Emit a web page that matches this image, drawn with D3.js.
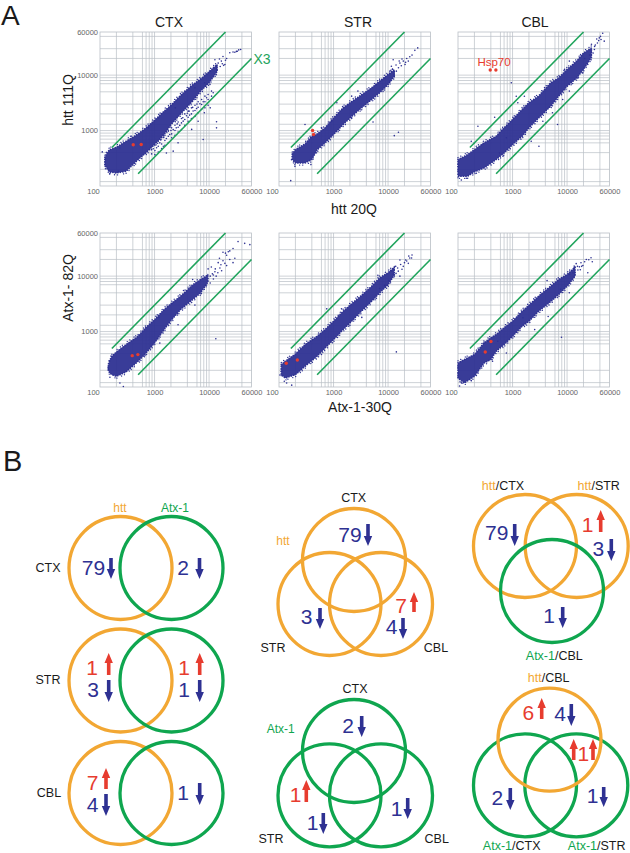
<!DOCTYPE html>
<html><head><meta charset="utf-8">
<script src="https://cdn.jsdelivr.net/npm/d3@7"></script>
<style>html,body{margin:0;padding:0;background:#fff}svg{display:block}text{font-family:"Liberation Sans",Arial,sans-serif}</style>
</head><body><svg id="c" width="630" height="853"></svg>
<script>
// ---------- Scatter data (x value, upper / lower edge of the dense cloud, single visible dots)
const tickLabels=[100,1000,10000,60000];
const gridX=[200,400,600,700,800,900,1000,2000,4000,6000,7000,8000,9000,10000,20000,40000];
const gridY=[120,200,400,600,700,800,900,1000,1300,2000,3000,5000,7000,8000,9000,10000,20000,30000,50000];
const foldChange=3;
const upperLineX=[165,20000], lowerLineX=[500,60000];

const xHttCtx=[123,135,150,200,300,500,700,1000,1500,2000,3000,5000,7000,10000,14000];
const hiHttCtx=[330,400,453,500,640,870,1120,1530,2240,2860,4300,6700,8500,11500,15500];
const loHttCtx=[240,205,179,172,184,300,400,560,850,1280,2000,3400,5150,7300,11500];
const dotsHttCtxLow=[[885,454],[885,379],[1016,543],[1016,435],[1016,368],[1170,640],[1170,521],[1170,411],[1350,740],[1350,574],[1350,473],[1550,821],[1550,660],[1550,543],[1790,970],[1790,789],[1790,607],[2060,1120],[2060,870],[2060,740],[2370,1250],[2370,1000],[2370,821],[2710,1430],[2710,1150],[2710,945],[3120,1650],[3120,1375],[3120,1040],[3590,2000],[3590,1580],[3590,1250],[4130,2240],[4130,1740],[4130,1474],[4750,2570],[4750,2000],[4750,1650],[5520,2860],[5520,2300],[5520,1790],[6300,3300],[6300,2640],[6300,2090],[7300,3630],[7300,2960],[7300,2400],[8400,4180],[8400,3300],[8400,2570],[9600,4480],[9600,3630],[9600,2860],[11100,5150],[11100,4180],[950,470],[1090,490],[1250,600],[1450,520],[1650,720],[1900,850],[2200,1040],[2500,1120],[2900,1240],[3350,1480],[3850,1850],[4400,1900],[5100,2250],[5900,2500],[6800,3050],[7800,3300],[9000,3900],[1280,680],[1480,760],[2000,1000],[2600,1320],[3300,1700],[4000,2050],[5000,2620],[6000,3000]];
const dotsHttCtx=[[24000,25300],[27500,26200],[31700,26800],[35000,28500],[38000,29000],[29700,25800],[33000,27000],[18000,21700],[14700,16500],[12800,19000],[10400,11800],[12000,13600],[16800,17900],[19500,15600],[9000,10300],[8300,7300],[10400,6800],[5500,5900],[3600,5150],[2400,2570],[1200,1690],[780,1120],[370,790],[230,485],[110,412],[126,205],[123,243],[152,167],[217,184],[13700,1440],[13700,1120],[7800,690],[2200,425],[1650,395],[2700,600],[10500,2570],[6300,1474],[4800,1050],[8200,2100],[11900,4800],[4300,2240],[15500,19500],[17500,16000],[21000,20000],[14000,12500],[16000,14300],[20000,18500],[18500,15000]];
const redHttCtx=[[407,555],[570,560]];

const xHttStr=[175,200,300,400,500,700,1000,1500,2000,3000,5000,7000,10000,13000];
const hiHttStr=[378,453,575,790,870,1120,1690,2570,3170,4180,5900,7760,10300,12500];
const loHttStr=[300,260,260,300,450,600,850,1285,1690,2400,3630,4800,6790,9500];
const dotsHttStr=[[164,125],[170,299],[196,226],[300,1285],[385,243],[13000,810],[15500,935],[5300,1430],[35000,31000],[31000,28000],[27500,23000],[25000,21500],[22000,20000],[19000,17900],[16500,16500],[23500,17900],[20500,15600],[12400,19000],[11500,14500],[14200,11800],[15500,13600],[10800,11800],[10800,7760],[8700,8900],[2150,4180],[2800,5150],[6100,6790],[1150,3170],[2150,1700],[600,1120],[920,1474],[17500,14800],[14000,15200],[18000,19500],[21000,17000],[13000,10000],[12000,12800],[16000,18000]];
const redHttStr=[[413,1000],[430,850]];

const xHttCbl=[100,150,200,300,500,700,1000,1500,2000,3000,5000,7000,10000,15000,20000,28000];
const hiHttCbl=[299,368,453,600,790,1120,1580,2400,3170,4180,7270,8900,12700,17900,25000,31000];
const loHttCbl=[150,150,180,212,300,395,560,790,1120,1690,2760,4180,6300,8900,12700,21000];
const dotsHttCbl=[[950,7300],[3050,520],[470,1740],[232,1200],[1170,4150],[200,600],[6700,1285],[668,345],[580,395],[39000,47000],[45000,57000],[36000,38000],[31700,29000],[42000,44000],[48000,41000],[25900,23000],[24000,15600],[21000,20000],[11000,17900],[9000,12700],[15400,8900],[19500,11000],[11000,5150],[8300,3630],[5400,2100],[4100,1380],[3600,1474],[1650,4150],[1250,3170],[175,640],[217,170],[142,138],[115,128],[770,740],[2200,640],[33000,35000],[38000,42000],[41000,50000],[35000,45000],[30000,25000],[32000,33000],[28000,36000]];
const redHttCbl=[[390,12400],[495,12400]];

const xAtxCtx=[142,150,165,200,300,500,700,1000,1500,2000,3000,5000,7000,9500];
const hiAtxCtx=[240,300,358,428,582,825,1195,1640,2500,3170,4340,6950,8700,10500];
const loAtxCtx=[205,180,167,156,187,291,410,625,1085,1580,2500,3770,5000,7800];
const dotsAtxCtx=[[13300,740],[232,118],[268,102],[152,150],[142,215],[34000,42000],[27500,31500],[22500,27500],[18000,27000],[14700,17500],[15800,14000],[12800,12000],[11000,14600],[18000,19000],[29700,21000],[45000,39000],[56000,37000],[27500,17500],[24000,28500],[21000,23800],[21000,15500],[9600,13500],[12000,8900],[13500,10000],[9000,6900],[5500,3000],[5000,8700],[3400,5500],[2100,3200],[1200,1800],[500,870],[668,373],[1250,620],[2700,1330],[10500,10000],[11500,11000],[13000,13500],[14500,11500],[16500,16000],[10500,7500],[12000,10500],[17000,12500],[19500,17000],[24000,20000],[15500,21000],[20000,26000]];
const redAtxCtx=[[390,368],[495,384]];

const xAtxStr=[110,130,200,300,500,700,1000,1500,2000,3000,5000,7000,10000,13000];
const hiAtxStr=[253,291,394,582,825,1085,1530,2320,2990,4180,6570,9300,11500,14500];
const loAtxStr=[167,145,167,236,358,505,715,1085,1430,2170,3530,5000,7000,10500];
const dotsAtxStr=[[14200,430],[750,2570],[27500,24000],[25000,21300],[22000,18800],[17000,16200],[18000,13300],[15400,12300],[11800,12300],[13800,15000],[27000,21300],[23500,17000],[16500,19500],[12400,10800],[16500,10000],[10200,8300],[8700,6800],[6500,10400],[7000,6000],[112,190],[104,165],[125,127],[171,108],[138,118],[1400,2570],[600,385],[2000,1300],[3300,1800],[1220,1970],[19000,15000],[21000,19500],[24000,23000],[15000,14000],[14000,11200],[20000,17500]];
const redAtxStr=[[136,268],[217,307]];

const xAtxCbl=[100,130,200,300,400,500,700,1000,1500,2000,3000,5000,7000,10000,14000];
const hiAtxCbl=[272,312,384,625,770,885,1170,1530,2320,2990,4340,6570,8700,10700,14500];
const loAtxCbl=[145,118,156,272,312,442,582,825,1250,1530,2320,3470,4650,6570,10000];
const dotsAtxCbl=[[7900,790],[18000,17400],[21000,18200],[29000,18200],[24000,11500],[15800,12900],[12800,11500],[27500,21500],[14700,16800],[16800,14700],[19500,15600],[11000,10700],[4300,8300],[7600,5800],[11000,5000],[107,104],[115,119],[175,130],[535,670],[430,291],[770,410],[355,670],[300,625],[1550,1770],[2550,1085],[4500,1870],[17500,13000],[15500,15000],[13500,14300],[22500,20000],[18500,15000],[25000,19800]];
const redAtxCbl=[[402,660],[316,428]];

const columnTitles=["CTX","STR","CBL"];
// ---------- Venn counts: CTX, STR, CBL
const httDown=[79,3,4], httUp=[0,1,7];
const atxDown=[2,1,1],  atxUp=[0,1,0];
const httCblOnlyUp=6, sharedCblUp=1;

// ---------- Palette
const BLUE="#2e3192",RED="#e73c2f",GREEN="#1fa45c",VGREEN="#0fa64f",ORANGE="#f2a733",GRID="#b9bfc5",TICK="#666";
const svg=d3.select("#c");

// ---------- Scatter panels
const panelLefts=[100,279,458], panelTops=[32,233];
const panelW=151.5, panelH=154;
const panels=[
 {c:0,r:0,x:xHttCtx,hi:hiHttCtx,lo:loHttCtx,dots:dotsHttCtx.concat(dotsHttCtxLow),red:redHttCtx},
 {c:1,r:0,x:xHttStr,hi:hiHttStr,lo:loHttStr,dots:dotsHttStr,red:redHttStr},
 {c:2,r:0,x:xHttCbl,hi:hiHttCbl,lo:loHttCbl,dots:dotsHttCbl,red:redHttCbl},
 {c:0,r:1,x:xAtxCtx,hi:hiAtxCtx,lo:loAtxCtx,dots:dotsAtxCtx,red:redAtxCtx},
 {c:1,r:1,x:xAtxStr,hi:hiAtxStr,lo:loAtxStr,dots:dotsAtxStr,red:redAtxStr},
 {c:2,r:1,x:xAtxCbl,hi:hiAtxCbl,lo:loAtxCbl,dots:dotsAtxCbl,red:redAtxCbl}
];
panels.forEach((p,i)=>{
  const g=svg.append("g").attr("transform",`translate(${panelLefts[p.c]},${panelTops[p.r]})`);
  const X=d3.scaleLog().domain([100,60000]).range([0,panelW]);
  const Y=d3.scaleLog().domain([100,60000]).range([panelH,0]);
  g.append("g").selectAll("line").data(gridX).join("line").attr("x1",X).attr("x2",X).attr("y1",0).attr("y2",panelH).attr("stroke",GRID).attr("stroke-width",.7);
  g.append("g").selectAll("line").data(gridY).join("line").attr("y1",Y).attr("y2",Y).attr("x1",0).attr("x2",panelW).attr("stroke",GRID).attr("stroke-width",.7);
  g.append("rect").attr("width",panelW).attr("height",panelH).attr("fill","none").attr("stroke",GRID).attr("stroke-width",.8);
  // axes
  const ax=g.append("g").attr("transform",`translate(0,${panelH})`).call(d3.axisBottom(X).tickValues(tickLabels).tickSize(0).tickPadding(3).tickFormat(d3.format("d")));
  ax.select(".domain").remove();
  ax.selectAll("text").attr("font-size",7.5).attr("fill",TICK).attr("font-family","Liberation Sans")
    .attr("dx",d=>d===100?-7:0);
  if(p.c===0){
    const ay=g.append("g").call(d3.axisLeft(Y).tickValues(tickLabels.slice(1)).tickSize(0).tickPadding(2).tickFormat(d3.format("d")));
    ay.select(".domain").remove();
    ay.selectAll("text").attr("font-size",7.5).attr("fill",TICK).attr("font-family","Liberation Sans");
  }
  // dense cloud envelope, with grainy dotted edges
  const area=d3.area().x(d=>X(d[0])).y0(d=>Y(d[2])).y1(d=>Y(d[1]));
  const rows=p.x.map((v,k)=>[v,p.hi[k],p.lo[k]]);
  g.append("path").attr("d",area(rows.map(d=>[d[0],d[1]*1.09,d[2]/1.09]))).attr("fill","none")
   .attr("stroke",BLUE).attr("stroke-width",1.3).attr("stroke-linecap","round").attr("stroke-dasharray","0.1 3 0.1 5 0.1 2 0.1 7 0.1 4 0.1 2.5 0.1 6");
  g.append("path").attr("d",area(rows)).attr("fill",BLUE).attr("fill-opacity",.95)
   .attr("stroke",BLUE).attr("stroke-width",1.7).attr("stroke-linecap","round").attr("stroke-dasharray","0.1 2.4");
  g.append("g").selectAll("circle").data(p.dots).join("circle").attr("cx",d=>X(d[0])).attr("cy",d=>Y(d[1])).attr("r",.8).attr("fill",BLUE);
  // fold-change guide lines
  const ln=d3.line().x(d=>X(d[0])).y(d=>Y(d[1]));
  g.append("path").attr("d",ln(upperLineX.map(v=>[v,v*foldChange]))).attr("stroke",GREEN).attr("stroke-width",1.6).attr("fill","none");
  g.append("path").attr("d",ln(lowerLineX.map(v=>[v,v/foldChange]))).attr("stroke",GREEN).attr("stroke-width",1.6).attr("fill","none");
  g.append("g").selectAll("circle").data(p.red).join("circle").attr("cx",d=>X(d[0])).attr("cy",d=>Y(d[1])).attr("r",1.7).attr("fill",RED);
});

function t(x,y,s,o={}){
  return svg.append("text").attr("x",x).attr("y",y).attr("text-anchor",o.a||"middle").attr("dominant-baseline","central")
   .attr("font-size",o.f||12.5).attr("fill",o.c||"#1a1a1a").text(s);
}
t(1,15,"A",{a:"start",f:28});
t(3,461,"B",{a:"start",f:29});
t(169,22,columnTitles[0],{f:14});t(358,22,columnTitles[1],{f:14});t(535,22,columnTitles[2],{f:14});
t(262,59,"X3",{f:14,c:GREEN});
t(354,209,"htt 20Q",{f:14});t(360,407,"Atx-1-30Q",{f:14});
svg.append("text").attr("transform","translate(68,100) rotate(-90)").attr("text-anchor","middle").attr("dominant-baseline","central").attr("font-size",14).attr("fill","#1a1a1a").text("htt 111Q");
svg.append("text").attr("transform","translate(68,288) rotate(-90)").attr("text-anchor","middle").attr("dominant-baseline","central").attr("font-size",14).attr("fill","#1a1a1a").text("Atx-1- 82Q");
t(494,62,"Hsp70",{f:11.5,c:RED});

// ---------- Venn diagrams
function ring(cx,cy,col){svg.append("circle").attr("cx",cx).attr("cy",cy).attr("r",51.5).attr("fill","none").attr("stroke",col).attr("stroke-width",3.3);}
const arrowShape=d3.line();
function arrow(x,y0,y1,col){ // y0 tail, y1 tip
  const dir=y1>y0?1:-1,hw=4.2,sw=1.8,hl=10;
  const neck=y1-dir*hl;
  svg.append("path").attr("d",arrowShape([[x-sw,y0],[x+sw,y0],[x+sw,neck],[x+hw,neck],[x,y1],[x-hw,neck],[x-sw,neck]])+"Z").attr("fill",col);
}
function down(cx,cy,n,ax,y0,y1){t(cx,cy,n,{f:21,c:BLUE});arrow(ax,y0,y1,BLUE);}
function up(cx,cy,n,ax,y0,y1){t(cx,cy,n,{f:21,c:RED});arrow(ax,y1,y0,RED);}
function mixed(x,y,parts,f=12.5){ // coloured run of text centred on x
  const el=svg.append("text").attr("x",x).attr("y",y).attr("text-anchor","middle").attr("dominant-baseline","central").attr("font-size",f);
  parts.forEach(([s,c])=>el.append("tspan").attr("fill",c).text(s));
}
const INK="#1a1a1a";
// left column
[568,680.5,793].forEach(y=>{ring(120.5,y,ORANGE);ring(171.5,y,VGREEN);});
t(120,508,"htt",{f:12,c:ORANGE});t(175,508,"Atx-1",{f:12,c:VGREEN});
t(48,568,columnTitles[0],{f:12.5});t(48,680,columnTitles[1],{f:12.5});t(49,793,columnTitles[2],{f:12.5});
down(93.5,567,httDown[0],111,558,579);down(183,567,atxDown[0],199.5,558,579);
up(92,667,httUp[1],108.7,653,675);down(93,689,httDown[1],108.7,680,702);
up(184,667,atxUp[1],199.7,653,675);down(184,689,atxDown[1],199.7,680,702);
up(92.7,782,httUp[2],106,768,789);down(92.7,804,httDown[2],106,794,816);
down(183,792,atxDown[2],199.7,783,805);
// middle column, htt
ring(354,560,ORANGE);ring(329.5,604,ORANGE);ring(381,604,ORANGE);
t(353.7,498,columnTitles[0],{f:12.5});t(283,541,"htt",{f:12,c:ORANGE});t(273,648,columnTitles[1],{f:12.5});t(436,648,columnTitles[2],{f:12.5});
down(350,534,httDown[0],368,524,546);down(306.7,616,httDown[1],320,608,629);
up(401,605,httUp[2],414,592,612);down(391.7,626,httDown[2],403,618,639);
// middle column, Atx-1
ring(354,751,VGREEN);ring(329.5,795.3,VGREEN);ring(381,795.3,VGREEN);
t(355,689,columnTitles[0],{f:12.5});t(280.7,729,"Atx-1",{f:12,c:VGREEN});t(271,839,columnTitles[1],{f:12.5});t(436.7,839,columnTitles[2],{f:12.5});
down(348,725,atxDown[0],361.7,716,737);
up(295.7,794,atxUp[1],306.3,780,802);down(312.7,822,atxDown[1],323.3,813,834);
down(396.7,808,atxDown[2],407.7,798,819);
// right column, top
ring(525,546,ORANGE);ring(576.7,546,ORANGE);ring(552,591,VGREEN);
mixed(503,486,[["htt",ORANGE],["/CTX",INK]]);mixed(598.7,486,[["htt",ORANGE],["/STR",INK]]);mixed(554.3,656,[["Atx-1",VGREEN],["/CBL",INK]]);
down(496.7,532,httDown[0],514.7,524,546);
up(587.7,524,httUp[1],600.7,510,532);down(598.3,548,httDown[1],611.3,539,561);
down(549,615,atxDown[2],562.7,607,628);
// right column, bottom
ring(525,785.3,VGREEN);ring(576.3,785.3,VGREEN);ring(549.5,739.7,ORANGE);
mixed(548.7,678,[["htt",ORANGE],["/CBL",INK]]);mixed(511.7,846,[["Atx-1",VGREEN],["/CTX",INK]]);mixed(596.7,846,[["Atx-1",VGREEN],["/STR",INK]]);
up(528.3,712.3,httCblOnlyUp,541.7,698,719);down(560,713.3,httDown[2],571.3,704,726);
up(583.3,753.3,sharedCblUp,573.7,739,760);arrow(593,760,739,RED);
down(497.3,797.3,atxDown[0],510.3,788,810);down(592.7,795,atxDown[2],603.7,787,807);
</script></body></html>
